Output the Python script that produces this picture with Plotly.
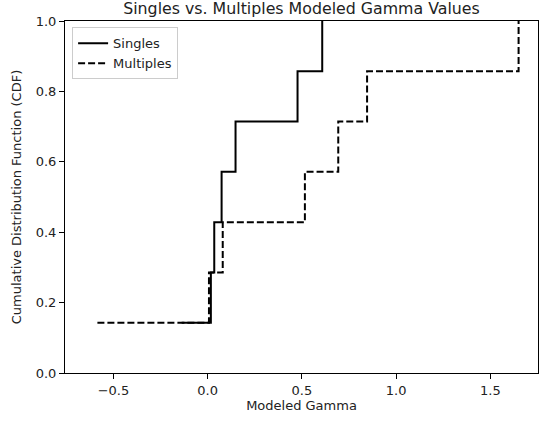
import plotly.graph_objects as go

singles_x = [-0.138, 0.017, 0.035, 0.074, 0.148, 0.477, 0.608]
multiples_x = [-0.585, 0.007, 0.080, 0.516, 0.693, 0.846, 1.650]
cdf_y = [1/7, 2/7, 3/7, 4/7, 5/7, 6/7, 7/7]

x_range = [-0.757, 1.753]
y_range = [0.0, 1.0]
x_ticks = [-0.5, 0.0, 0.5, 1.0, 1.5]
x_ticktext = ["\u22120.5", "0.0", "0.5", "1.0", "1.5"]
y_ticks = [0.0, 0.2, 0.4, 0.6, 0.8, 1.0]

font = "DejaVu Sans"
fs = 13

fig = go.Figure()
fig.add_trace(go.Scatter(x=singles_x, y=cdf_y, mode="lines", line_shape="hv",
                         name="Singles", line=dict(color="black", width=2)))
fig.add_trace(go.Scatter(x=multiples_x, y=cdf_y, mode="lines", line_shape="hv",
                         name="Multiples",
                         line=dict(color="black", width=2, dash="7px,3px")))

axis_common = dict(showline=True, linecolor="black", linewidth=1, mirror=True,
                   ticks="outside", ticklen=5, tickcolor="black", tickwidth=1,
                   showgrid=False, zeroline=False,
                   tickfont=dict(family=font, size=fs, color="#222222"))

fig.update_layout(
    width=542, height=421,
    margin=dict(l=65, r=4, t=21, b=48),
    paper_bgcolor="white", plot_bgcolor="white",
    font=dict(family=font, color="#222222"),
    title=dict(text="Singles vs. Multiples Modeled Gamma Values",
               font=dict(family=font, size=15.8, color="#222222"),
               x=0.5, xanchor="center", xref="paper",
               y=1 - 8/421, yanchor="middle", yref="container"),
    xaxis=dict(range=x_range, tickvals=x_ticks, ticktext=x_ticktext,
               title=dict(text="Modeled Gamma", font=dict(family=font, size=fs),
                          standoff=2),
               **axis_common),
    yaxis=dict(range=y_range, tickvals=y_ticks, tickformat=".1f",
               title=dict(text="Cumulative Distribution Function (CDF)",
                          font=dict(family=font, size=fs), standoff=11),
               **axis_common),
    legend=dict(x=0.015, y=0.982, xanchor="left", yanchor="top",
                bgcolor="rgba(255,255,255,0.8)", bordercolor="#cccccc", borderwidth=1,
                font=dict(family=font, size=fs, color="#222222"),
                tracegroupgap=0, itemwidth=30),
    showlegend=True,
)

fig.write_html("out.html")
